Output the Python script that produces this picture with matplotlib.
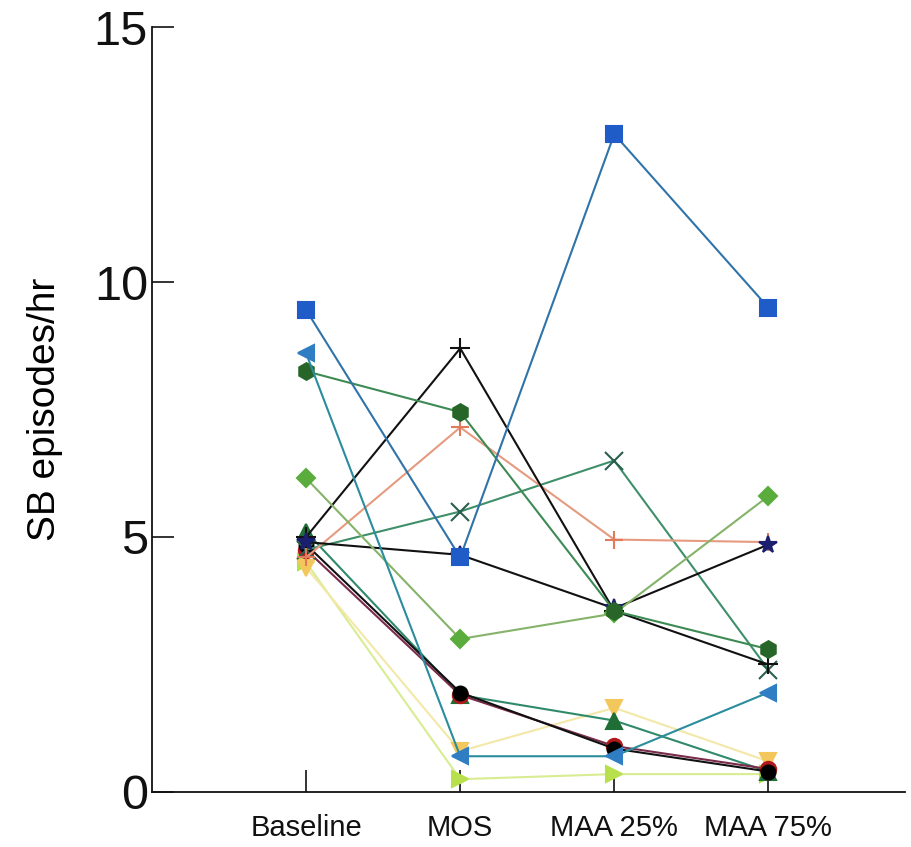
import matplotlib
matplotlib.use("Agg")
import matplotlib.pyplot as plt
from matplotlib import font_manager

categories = ["Baseline", "MOS", "MAA 25%", "MAA 75%"]

# one subject per list: values at Baseline, MOS, MAA 25%, MAA 75%
sq_blue = [9.45, 4.6, 12.9, 9.5]
tri_blue = [8.6, 0.7, 0.7, 1.95]
hex_green = [8.25, 7.45, 3.55, 2.8]
dia_lgreen = [6.15, 3.0, 3.5, 5.8]
plus_black = [5.0, 8.7, 3.55, 2.5]
orange_plus = [4.6, 7.15, 4.95, 4.9]
x_teal = [4.75, 5.5, 6.5, 2.4]
star_navy = [4.9, 4.65, 3.6, 4.85]
circle_black = [4.85, 1.95, 0.85, 0.4]
circle_red = [4.75, 1.9, 0.9, 0.45]
tri_green = [5.1, 1.9, 1.4, 0.4]
tri_yellow = [4.4, 0.8, 1.65, 0.6]
tri_lime = [4.5, 0.25, 0.35, 0.35]

installed = {f.name for f in font_manager.fontManager.ttflist}
narrow = "Liberation Sans Narrow" if "Liberation Sans Narrow" in installed else "Liberation Sans"

fig = plt.figure(figsize=(9.11, 8.47), dpi=100)
ax = fig.add_axes([0.167, 0.065, 0.826, 0.903])

x = [1, 2, 3, 4]

# (values, line colour, marker, marker colour, marker size)
series = [
    (tri_lime, "#d8ec92", ">", "#b8e04c", 11),
    (tri_yellow, "#f3e8a8", "v", "#f4c75c", 11),
    (tri_green, "#2f8a6a", "^", "#1f6e35", 11),
    (circle_red, "#7a2a4a", "o", "#b3191c", 11),
    (circle_black, "#111111", "o", "#000000", 10),
    (x_teal, "#3f8f6a", "x", "#2a5f4f", 13),
    (orange_plus, "#e69a80", "+", "#e07a5a", 13),
    (plus_black, "#111111", "+", "#111111", 14),
    (star_navy, "#111111", "*", "#1a1f70", 13),
    (dia_lgreen, "#85b36a", "D", "#5aac3c", 9),
    (hex_green, "#3d8a55", "h", "#276628", 12),
    (tri_blue, "#2a8c9c", "<", "#2f7dc2", 12),
    (sq_blue, "#2f73a8", "s", "#1f5cc8", 11),
]

for vals, lc, mk, mc, ms in series:
    ax.plot(x, vals, color=lc, lw=1.5, marker=mk, markersize=ms,
            markerfacecolor=mc, markeredgecolor=mc, markeredgewidth=1.5)

ax.set_xlim(0, 4.885)
ax.set_ylim(0, 15)
ax.set_yticks([0, 5, 10, 15])
ax.set_xticks(x)
ax.set_xticklabels(categories, fontname=narrow, fontsize=21)
ax.set_yticklabels(["0", "5", "10", "15"], fontname="Liberation Sans", fontsize=35)
ax.set_ylabel("SB episodes/hr", fontname=narrow, fontsize=28, labelpad=22)

ax.tick_params(axis="both", direction="in", length=16, width=1.2, colors="#111111")
ax.tick_params(axis="y", pad=3)
ax.tick_params(axis="x", pad=16)

ax.spines["top"].set_visible(False)
ax.spines["right"].set_visible(False)
for s in ("left", "bottom"):
    ax.spines[s].set_linewidth(1.3)
    ax.spines[s].set_color("#111111")

fig.savefig("out.png", dpi=100)
